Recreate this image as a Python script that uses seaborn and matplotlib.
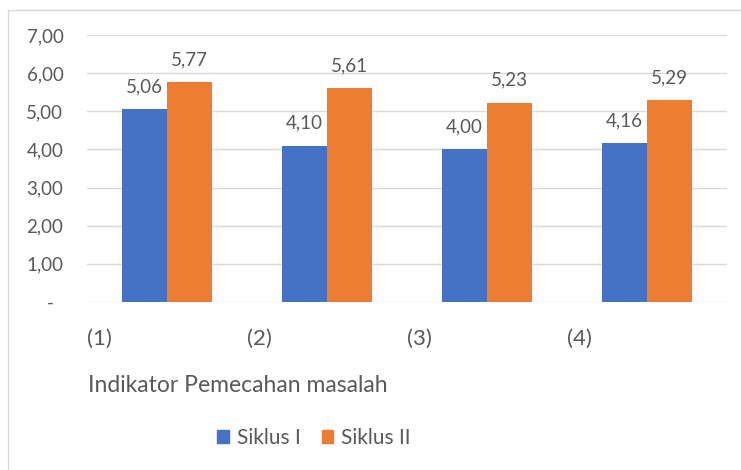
import numpy as np
import pandas as pd
import seaborn as sns
import matplotlib.pyplot as plt
from matplotlib.patches import Rectangle

# Chart data
indikator = ['(1)', '(2)', '(3)', '(4)']
siklus_1 = [5.06, 4.10, 4.00, 4.16]
siklus_2 = [5.77, 5.61, 5.23, 5.29]
series_names = ['Siklus I', 'Siklus II']
y_ticks = [0, 1, 2, 3, 4, 5, 6, 7]

sns.set_style('white')
plt.rcParams['font.family'] = ['Lato', 'DejaVu Sans']

text_color = '#595959'
colors = ['#4472C4', '#ED7D31']

df = pd.DataFrame({
    'Indikator': indikator * 2,
    'Nilai': siklus_1 + siklus_2,
    'Siklus': [series_names[0]] * 4 + [series_names[1]] * 4,
})

fig = plt.figure(figsize=(7.41, 4.70), dpi=100)
ax = fig.add_axes([87 / 741, 1 - 302 / 470, 640 / 741, 267 / 470])

sns.barplot(data=df, x='Indikator', y='Nilai', hue='Siklus', palette=colors,
            width=0.5625, gap=0, saturation=1, linewidth=0, ax=ax, legend=False)

ax.set_ylim(0, 7)
ax.set_xlim(-0.5, 3.5)
ax.set_yticks(y_ticks)
ax.set_yticklabels(['-'] + [f'{v:.2f}'.replace('.', ',') for v in y_ticks[1:]],
                   fontsize=13.5, color=text_color)
ax.tick_params(axis='y', length=0, pad=17)
ax.yaxis.get_major_ticks()[0].set_pad(24)
ax.grid(axis='y', color='#d9d9d9', linewidth=1)
ax.set_axisbelow(True)
for s in ax.spines.values():
    s.set_visible(False)

# category labels sit at the left edge of each category
ax.set_xticks(np.arange(len(indikator)) - 0.5)
ax.set_xticklabels(indikator, ha='left', fontsize=16, color=text_color)
ax.tick_params(axis='x', length=0, pad=19)
ax.set_xlabel('')
ax.set_ylabel('')

for container in ax.containers:
    labels = [f'{b.get_height():.2f}'.replace('.', ',') for b in container]
    ax.bar_label(container, labels=labels, padding=10, fontsize=13.5, color=text_color)

fig.text(88 / 741, 1 - 385 / 470, 'Indikator Pemecahan masalah', ha='left', va='center',
         fontsize=16.5, color=text_color)

handles = [Rectangle((0, 0), 1, 1, color=c) for c in colors]
fig.legend(handles, series_names, loc='center', bbox_to_anchor=(314 / 741, 1 - 438 / 470),
           ncol=2, frameon=False, fontsize=15, labelcolor=text_color,
           handlelength=0.55, handleheight=0.55, handletextpad=0.4, columnspacing=1.0)

fig.add_artist(Rectangle((8 / 741, -0.1), 1, 1 - 10 / 470 + 0.1, fill=False,
                         edgecolor='#d9d9d9', linewidth=1, transform=fig.transFigure))

fig.savefig('out.png', dpi=100)
